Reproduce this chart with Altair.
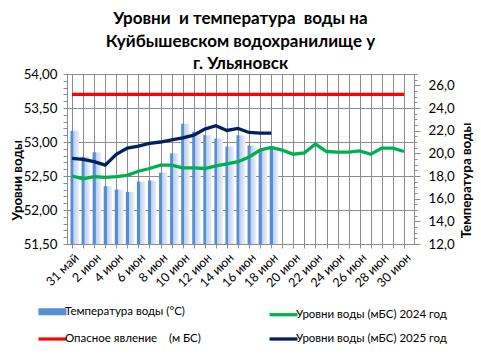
import json
import altair as alt
import pandas as pd

# ---- data ----
days = ["31 май"] + [f"{d} июн" for d in range(1, 31)]
temp = [22.0, 19.7, 20.1, 17.1, 16.8, 16.6, 17.5, 17.6, 18.3, 20.0,
        22.6, 21.9, 21.6, 21.3, 20.6, 21.6, 20.7, 20.2, 20.4]
level_2025 = [52.76, 52.745, 52.71, 52.66, 52.82, 52.91, 52.94, 52.98, 53.00, 53.03,
              53.06, 53.10, 53.19, 53.24, 53.17, 53.20, 53.14, 53.13, 53.13]
level_2024 = [52.50, 52.46, 52.49, 52.48, 52.49, 52.51, 52.57, 52.61, 52.66, 52.66,
              52.62, 52.62, 52.61, 52.65, 52.68, 52.71, 52.78, 52.88, 52.92, 52.88,
              52.82, 52.84, 52.97, 52.86, 52.85, 52.85, 52.87, 52.82, 52.91, 52.91,
              52.86]
danger_level = 53.7

S_T = "Температура воды (°С)"
S_24 = "Уровни воды (мБС) 2024 год"
S_D = "Опасное явление\u00a0\u00a0\u00a0 (м БС)"
S_25 = "Уровни воды (мБС) 2025 год"
series_order = [S_T, S_24, S_D, S_25]

FONT = "Lato"
BLUE, GREEN, RED, NAVY = "#558ED5", "#00B050", "#FF0000", "#002060"
GRAY = "#8C8C8C"

temp_df = pd.DataFrame({"day": list(range(len(temp))), "temp": temp})
rows = []
for i, v in enumerate(level_2024):
    rows.append({"day": i, "level": v, "series": S_24, "ord": 1})
for i, v in enumerate(level_2025):
    rows.append({"day": i, "level": v, "series": S_25, "ord": 2})
for i in (0, len(days) - 1):
    rows.append({"day": i, "level": danger_level, "series": S_D, "ord": 3})
lines_df = pd.DataFrame(rows)

labels_js = json.dumps(days, ensure_ascii=False)
xdom = [0, 30.45]

x_axis = alt.Axis(
    title=None, values=list(range(len(days))), grid=True, gridColor=GRAY,
    gridWidth=1, domainColor=GRAY, tickColor=GRAY, tickSize=4,
    labelExpr=f"datum.value % 2 == 0 ? {labels_js}[datum.value] : ''",
    labelAngle=-45, labelFont=FONT, labelFontSize=12.5, labelColor="#000",
    labelOverlap=False, labelPadding=3,
)
x_scale = alt.Scale(domain=xdom, nice=False, zero=False)

grad = alt.Gradient(
    gradient="linear", x1=0, x2=1, y1=0, y2=0,
    stops=[
        alt.GradientStop(color=BLUE, offset=0),
        alt.GradientStop(color=BLUE, offset=0.33),
        alt.GradientStop(color="#b9cfee", offset=0.36),
        alt.GradientStop(color="#eef1f6", offset=1),
    ],
)

tvals = [12 + 0.5 * k for k in range(31)]
bars = alt.Chart(temp_df).mark_bar(color=grad, width=8.5, xOffset=2.75).encode(
    x=alt.X("day:Q", scale=x_scale, axis=x_axis),
    y=alt.Y(
        "temp:Q",
        scale=alt.Scale(domain=[12, 27], nice=False, zero=False),
        axis=alt.Axis(
            orient="right", values=tvals, grid=False, domainColor=GRAY,
            tickColor=GRAY,
            tickSize={"condition": {"test": "datum.value % 2 == 0", "value": 6}, "value": 3},
            labelExpr="datum.value % 2 == 0 && datum.value < 27 ? replace(format(datum.value, '.1f'), '.', ',') : ''",
            labelFont=FONT, labelFontSize=13.3, labelColor="#000", labelOverlap=False,
            labelPadding=8,
            title="Температура воды", titleFont=FONT, titleFontSize=13.3,
            titleFontWeight="bold", titleColor="#000", titleAngle=270,
            titleX=52, titleY=106, titleAlign="center", titleBaseline="middle",
        ),
    ),
    y2=alt.datum(12),
)

legend = alt.Legend(
    title=None, orient="none", legendX=-25, legendY=227, columns=2, padding=0,
    direction="horizontal",
    columnPadding=61, rowPadding=4, symbolType="M-2,0H2", symbolSize=196,
    labelFont=FONT, labelFontSize=11.5, labelColor="#000",
    labelOffset=2, labelLimit=300,
)

lvals = [round(51.5 + 0.1 * k, 1) for k in range(26)]
is_major = "abs(datum.value * 2 - round(datum.value * 2)) < 0.001"
lines = alt.Chart(lines_df).mark_line().encode(
    x=alt.X("day:Q", scale=x_scale, axis=x_axis),
    y=alt.Y(
        "level:Q",
        scale=alt.Scale(domain=[51.5, 54.0], nice=False, zero=False),
        axis=alt.Axis(
            orient="left", values=lvals, grid=True, gridColor=GRAY,
            gridOpacity={"condition": {"test": is_major, "value": 1}, "value": 0},
            domainColor=GRAY, tickColor=GRAY, tickSize=4,
            labelExpr=f"{is_major} ? replace(format(datum.value, '.2f'), '.', ',') : ''",
            labelFont=FONT, labelFontSize=13.3, labelColor="#000", labelOverlap=False,
            labelPadding=6,
            title="Уровни воды", titleFont=FONT, titleFontSize=13.3,
            titleFontWeight="bold", titleColor="#000", titleAngle=270,
            titleX=-50, titleY=106, titleAlign="center", titleBaseline="middle",
        ),
    ),
    color=alt.Color(
        "series:N",
        scale=alt.Scale(domain=series_order, range=[BLUE, GREEN, RED, NAVY]),
        legend=legend,
    ),
    strokeWidth=alt.StrokeWidth(
        "series:N",
        scale=alt.Scale(type="ordinal", domain=series_order, range=[7, 3.3, 3.2, 3.3]),
        legend=legend,
    ),
    order=alt.Order("ord:Q"),
)

chart = alt.layer(bars, lines).resolve_scale(y="independent").properties(
    width=347, height=170,
    title=alt.TitleParams(
        text=["Уровни\u00a0 и температура\u00a0 воды на", "Куйбышевском водохранилище у", "г. Ульяновск"],
        font=FONT, fontSize=17, fontWeight="bold", color="#000", anchor="middle",
        lineHeight=22.5, offset=-6,
    ),
    autosize=alt.AutoSizeParams(type="none"),
    padding={"left": 67, "top": 74, "right": 67, "bottom": 111},
).configure_view(fill="#F2F2F2", stroke=None).configure(background="white")

chart.save("out.html", embed_options={"renderer": "svg", "actions": False})
